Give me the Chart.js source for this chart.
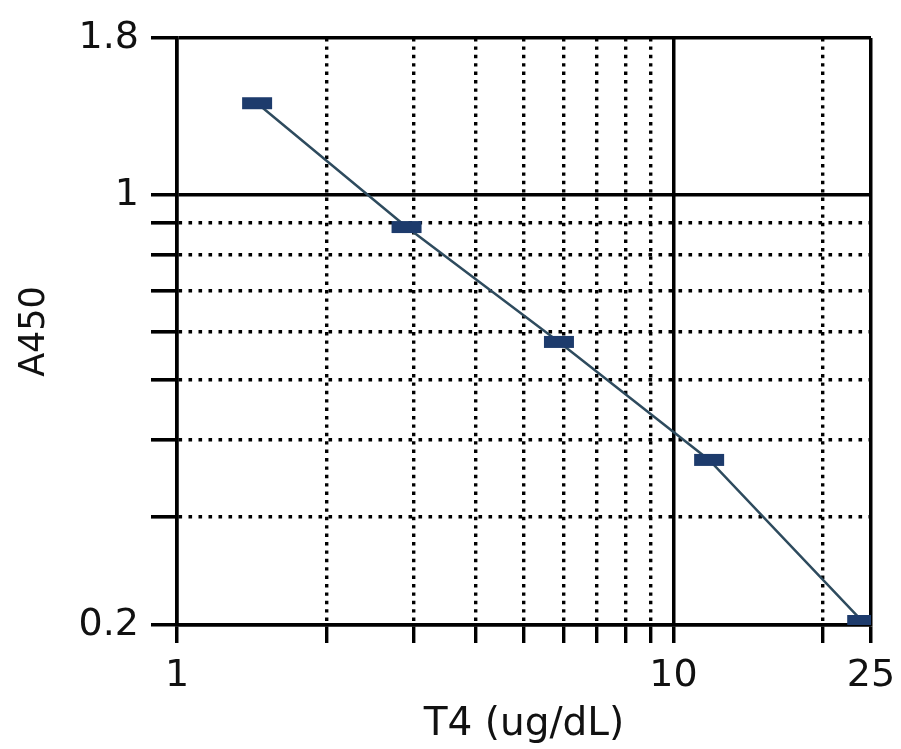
<!DOCTYPE html>
<html><head><meta charset="utf-8">
<script src="https://cdn.jsdelivr.net/npm/chart.js@4/dist/chart.umd.min.js"></script>
<style>html,body{margin:0;padding:0;background:#fff;} #wrap{width:901px;height:749px;}</style>
</head><body><div id="wrap"><canvas id="c" width="901" height="749"></canvas></div>
<script>
const concentrations = [1.45, 2.9, 5.88, 11.8, 24];
const absorbance = [1.41, 0.887, 0.577, 0.371, 0.203];
const xTickValues = [1, 2, 3, 4, 5, 6, 7, 8, 9, 10, 20, 25];
const xTickLabels = [1, 10, 25];
const yTickValues = [0.2, 0.3, 0.4, 0.5, 0.6, 0.7, 0.8, 0.9, 1, 1.8];
const yTickLabels = [0.2, 1, 1.8];
const xSolid = [1, 10, 25];
const ySolid = [0.2, 1, 1.8];

const isDotted = (c, solid) => c && c.tick && !solid.includes(c.tick.value);

new Chart(document.getElementById('c'), {
  type: 'line',
  data: {
    datasets: [{
      data: concentrations.map((x, i) => ({x: x, y: absorbance[i]})),
      borderColor: '#2e4b5e',
      borderWidth: 2.5,
      pointStyle: 'line',
      pointRadius: 15,
      pointHoverRadius: 15,
      pointBorderWidth: 12,
      pointHoverBorderWidth: 12,
      pointBorderColor: '#1d3b6c',
      pointBackgroundColor: '#1d3b6c',
      tension: 0,
      clip: 0
    }]
  },
  options: {
    responsive: false,
    devicePixelRatio: 1,
    animation: false,
    events: [],
    layout: {padding: {top: 38, right: 30, left: 0, bottom: 0}},
    plugins: {legend: {display: false}, tooltip: {enabled: false}},
    scales: {
      x: {
        type: 'logarithmic',
        min: 1, max: 25,
        afterBuildTicks: s => { s.ticks = xTickValues.map(v => ({value: v})); },
        afterFit: s => { s.height = 124; s.paddingRight = 0; s.paddingLeft = 0; },
        ticks: {
          autoSkip: false, maxRotation: 0, padding: 10, color: '#111',
          font: {family: 'DejaVu Sans', size: 38},
          callback: v => xTickLabels.includes(v) ? String(v) : ''
        },
        grid: {
          color: '#000',
          lineWidth: c => isDotted(c, xSolid) ? 3.4 : 3.5,
          tickLength: 18, drawTicks: true
        },
        border: {
          display: true, color: '#000', width: 3.5,
          dash: c => isDotted(c, xSolid) ? [3.4, 5] : []
        },
        title: {
          display: true, text: 'T4 (ug/dL)', color: '#111',
          font: {family: 'DejaVu Sans', size: 39},
          padding: {top: 0, bottom: 1}
        }
      },
      y: {
        type: 'logarithmic',
        min: 0.2, max: 1.8,
        afterBuildTicks: s => { s.ticks = yTickValues.map(v => ({value: v})); },
        afterFit: s => { s.width = 177; s.paddingTop = 0; s.paddingBottom = 0; },
        ticks: {
          autoSkip: false, padding: 12, color: '#111',
          font: {family: 'DejaVu Sans', size: 38},
          callback: v => yTickLabels.includes(v) ? String(v) : ''
        },
        grid: {
          color: '#000',
          lineWidth: c => isDotted(c, ySolid) ? 3.6 : 3.5,
          tickLength: 26, drawTicks: true
        },
        border: {
          display: true, color: '#000', width: 3.5,
          dash: c => isDotted(c, ySolid) ? [3.6, 6.4] : []
        },
        title: {
          display: true, text: 'A450', color: '#111',
          font: {family: 'DejaVu Sans', size: 35},
          padding: {top: 14, bottom: 0}
        }
      }
    }
  }
});
</script>
</body></html>
